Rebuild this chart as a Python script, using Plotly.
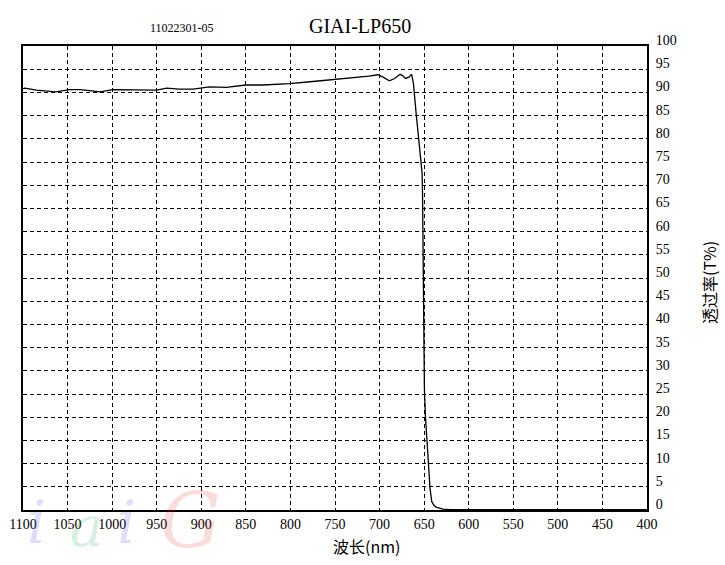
import plotly.graph_objects as go

wavelength = [1100, 1098, 1085, 1074, 1063, 1048, 1036, 1025, 1014, 999, 977, 950, 939, 925, 909,
              891, 872, 850, 831, 801, 778, 750, 726, 712, 702, 696, 689, 683, 677, 674, 671, 667,
              664, 662, 659, 656, 653.5, 652.3, 651.8, 651.2, 650.5, 649.7, 648.5, 646.7, 645.2,
              643.4, 641.5, 639, 636.6, 629, 620, 600, 550, 500, 450, 400]
transmission = [90.8, 90.9, 90.5, 90.3, 90.1, 90.6, 90.6, 90.4, 90.1, 90.6, 90.5, 90.5, 90.9, 90.7, 90.7,
                91.2, 91.1, 91.6, 91.6, 91.9, 92.3, 92.8, 93.2, 93.5, 93.8, 93.3, 92.5, 93.0, 93.9, 93.6,
                93.0, 93.3, 93.9, 91.9, 85.5, 79.8, 75.5, 72.6, 68.0, 55.8, 40.0, 26.1, 20.0, 14.7, 10.4,
                4.7, 1.8, 1.0, 0.6, 0.2, 0.1, 0.1, 0.1, 0.1, 0.1, 0.1]

x_ticks = list(range(400, 1101, 50))
y_ticks = list(range(0, 101, 5))

title_text = "GIAI-LP650"
code_text = "11022301-05"
x_title = "波长(nm)"
y_title = "透过率(T%)"

# plot area in pixels
L, R, T, B = 23, 647, 46, 510
W, H = 725, 565


def px(x):
    return (x - L) / (R - L)


def py(y):
    return (B - y) / (B - T)


fig = go.Figure()
fig.add_trace(go.Scatter(x=wavelength, y=transmission, mode="lines",
                         line=dict(color="black", width=1.3), hoverinfo="skip"))

axis_font = dict(family="Liberation Serif, Times New Roman, serif", size=14, color="black")

fig.update_layout(
    width=W, height=H,
    margin=dict(l=L, r=W - R, t=T, b=H - B, pad=0, autoexpand=False),
    paper_bgcolor="white", plot_bgcolor="white",
    showlegend=False,
    xaxis=dict(range=[1100, 400], tickvals=x_ticks, ticktext=[str(v) for v in x_ticks],
               showgrid=True, gridcolor="black", gridwidth=1, griddash="4px,3px",
               showline=True, linecolor="black", linewidth=1.8, mirror=True, automargin=False,
               ticks="", tickfont=axis_font, zeroline=False, ticklabelstandoff=0),
    yaxis=dict(range=[0, 100], tickvals=y_ticks, ticktext=[str(v) for v in y_ticks],
               side="right", showgrid=True, gridcolor="black", gridwidth=1, griddash="4px,3px",
               showline=True, linecolor="black", linewidth=1.8, mirror=True, automargin=False,
               ticks="", tickfont=axis_font, zeroline=False, ticklabelstandoff=4,
               ticklabelshift=-6),
)

annotations = [
    dict(text=title_text, x=px(360), y=py(26), font=dict(family="Liberation Serif, serif", size=20, color="black")),
    dict(text=code_text, x=px(182), y=py(28), font=dict(family="Liberation Serif, serif", size=12, color="black")),
    dict(text=x_title, x=px(366), y=py(546), font=dict(family="Noto Sans CJK SC, sans-serif", size=16, color="black")),
    dict(text=y_title, x=px(709), y=py(283), textangle=-90,
         font=dict(family="Noto Sans CJK SC, sans-serif", size=16, color="black")),
    # faint watermark letters
    dict(text="<i>i</i>", x=px(36), y=py(522), font=dict(family="DejaVu Serif", size=60, color="rgba(90,90,230,0.20)")),
    dict(text="<i>a</i>", x=px(86), y=py(526), font=dict(family="DejaVu Serif", size=56, color="rgba(40,170,90,0.18)")),
    dict(text="<i>i</i>", x=px(126), y=py(522), font=dict(family="DejaVu Serif", size=60, color="rgba(90,90,230,0.20)")),
    dict(text="<i>G</i>", x=px(190), y=py(520), font=dict(family="DejaVu Serif", size=76, color="rgba(230,60,60,0.18)")),
]
for a in annotations:
    a.update(xref="paper", yref="paper", showarrow=False, xanchor="center", yanchor="middle")
fig.update_layout(annotations=annotations)

fig.write_html("out.html", config={"displayModeBar": False},
               post_script="document.body.style.margin='0';document.body.style.padding='0';")
